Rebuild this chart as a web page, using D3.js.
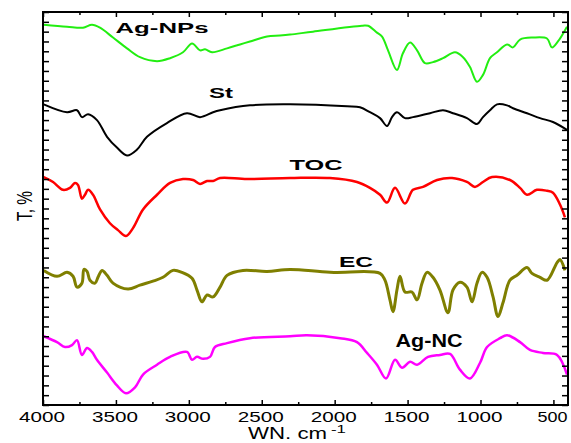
<!DOCTYPE html>
<html>
<head>
<meta charset="utf-8">
<script src="https://cdn.jsdelivr.net/npm/d3@7"></script>
<style>
  body { margin: 0; background: #fff; }
  svg { display: block; font-family: "Liberation Sans", Arial, sans-serif; }
</style>
</head>
<body>
<svg id="chart" width="571" height="443"></svg>
<script>
// spektra FTIR, hodnoty [vlnocet, T]
const agNPs = [
  [3995, 387], [3835, 385], [3726, 384], [3664, 387], [3609, 384], [3520, 374], [3424, 363],
  [3335, 354], [3218, 350], [3129, 353], [3040, 359], [2978, 368], [2923, 361], [2889, 362],
  [2841, 359], [2738, 363], [2649, 367], [2581, 370], [2464, 375], [2375, 376], [2306, 377],
  [2149, 380], [1813, 386], [1771, 386], [1710, 379], [1675, 375], [1634, 361], [1573, 341],
  [1532, 358], [1483, 369], [1435, 361], [1381, 348], [1326, 349], [1257, 353], [1175, 359],
  [1120, 354], [1072, 344], [1024, 329], [983, 336], [935, 353], [887, 359], [818, 367],
  [777, 364], [729, 372], [640, 374], [544, 373], [510, 364], [469, 370], [407, 385]
];
const st = [
  [3995, 306], [3835, 298], [3767, 300], [3733, 293], [3691, 296], [3630, 290], [3561, 273],
  [3493, 262], [3424, 254], [3355, 260], [3287, 273], [3150, 287], [3013, 297], [2923, 293],
  [2834, 298], [2786, 300], [2581, 305], [2306, 306], [1915, 304], [1826, 303], [1758, 298],
  [1689, 292], [1641, 284], [1607, 293], [1573, 298], [1518, 292], [1463, 293], [1346, 297],
  [1257, 300], [1189, 297], [1093, 292], [1024, 286], [983, 293], [935, 300], [887, 306],
  [818, 305], [777, 302], [681, 297], [592, 292], [503, 288], [407, 280]
];
const toc = [
  [3995, 232], [3931, 227], [3863, 219], [3815, 221], [3781, 226], [3760, 224], [3733, 210],
  [3712, 214], [3691, 219], [3657, 214], [3609, 199], [3541, 185], [3486, 178], [3431, 172],
  [3383, 180], [3314, 199], [3218, 214], [3129, 226], [3040, 230], [2971, 229], [2923, 225],
  [2875, 228], [2834, 228], [2786, 231], [2601, 230], [2306, 231], [2032, 231], [1847, 227],
  [1758, 221], [1689, 214], [1641, 206], [1586, 221], [1518, 205], [1463, 219], [1394, 222],
  [1298, 229], [1195, 231], [1093, 227], [1038, 222], [983, 227], [921, 232], [798, 229],
  [729, 221], [681, 214], [613, 219], [544, 218], [503, 216], [455, 204], [421, 191]
];
const ec = [
  [3995, 137], [3904, 131], [3835, 135], [3794, 131], [3767, 120], [3733, 124], [3719, 138],
  [3698, 136], [3678, 127], [3643, 124], [3623, 130], [3595, 137], [3561, 132], [3520, 124],
  [3417, 118], [3335, 122], [3246, 126], [3177, 130], [3109, 137], [3047, 135], [2978, 129],
  [2944, 117], [2910, 105], [2875, 112], [2834, 110], [2786, 120], [2738, 132], [2629, 137],
  [2464, 136], [2306, 138], [2032, 135], [1689, 134], [1655, 127], [1621, 107], [1600, 95],
  [1573, 117], [1552, 131], [1518, 115], [1470, 115], [1435, 107], [1401, 124], [1367, 135],
  [1326, 130], [1278, 117], [1223, 94], [1189, 117], [1141, 125], [1093, 120], [1058, 105],
  [1024, 124], [990, 135], [955, 130], [914, 110], [880, 90], [846, 104], [798, 127],
  [750, 132], [681, 140], [647, 134], [592, 130], [544, 127], [475, 145], [455, 148], [421, 137]
];
const agNC = [
  [3995, 70], [3904, 64], [3849, 59], [3801, 61], [3767, 66], [3733, 51], [3698, 58],
  [3664, 54], [3630, 46], [3561, 33], [3493, 20], [3431, 12], [3369, 18], [3314, 31],
  [3218, 41], [3129, 49], [3013, 54], [2978, 46], [2944, 49], [2903, 47], [2855, 49],
  [2821, 59], [2738, 63], [2581, 68], [2306, 70], [2190, 71], [1963, 68], [1847, 64],
  [1778, 53], [1710, 41], [1648, 27], [1586, 46], [1538, 38], [1483, 44], [1435, 41],
  [1360, 49], [1278, 51], [1209, 52], [1141, 36], [1072, 27], [1003, 43], [955, 59],
  [866, 68], [818, 71], [729, 64], [661, 56], [571, 53], [475, 51], [407, 31]
];

const seriesNames = ["Ag-NPs", "St", "TOC", "EC", "Ag-NC"];
const seriesData = [agNPs, st, toc, ec, agNC];
const seriesColors = ["#22ee11", "#000000", "#ff0000", "#7f7f00", "#ff00ff"];
const seriesWidths = [2, 2, 2.5, 3, 2.5];

const xTicks = [4000, 3500, 3000, 2500, 2000, 1500, 1000, 500];
const xMinor = d3.range(3750, 400, -500);
const yTicks = d3.range(0, 401, 10);

const margin = { left: 43, right: 3, top: 12, bottom: 38 };
const width = 571, height = 443;
const svg = d3.select("#chart");

const x = d3.scaleLinear().domain([4000, 400]).range([margin.left, width - margin.right]);
const y = d3.scaleLinear().domain([0, 400]).range([height - margin.bottom, margin.top]);

// text roztazeny do sirky jako v puvodnim obrazku
function label(tx, ty, str, len, size, weight, anchor) {
  return svg.append("text")
    .attr("x", tx).attr("y", ty)
    .attr("font-size", size)
    .attr("font-weight", weight || "normal")
    .attr("text-anchor", anchor || "middle")
    .attr("textLength", len)
    .attr("lengthAdjust", "spacingAndGlyphs")
    .text(str);
}

// krivky
const line = d3.line().x(d => x(d[0])).y(d => y(d[1])).curve(d3.curveCatmullRom.alpha(0.5));
seriesData.forEach((s, i) => {
  svg.append("path")
    .attr("d", line(s))
    .attr("fill", "none")
    .attr("stroke", seriesColors[i])
    .attr("stroke-width", seriesWidths[i])
    .attr("stroke-linejoin", "round");
});

// osy - carky dovnitr
const yBottom = height - margin.bottom, yTop = margin.top;
svg.append("g").attr("transform", `translate(0,${yBottom})`)
  .call(d3.axisBottom(x).tickValues(xTicks).tickSize(-5).tickFormat(""));
svg.append("g").attr("transform", `translate(0,${yBottom})`)
  .call(d3.axisBottom(x).tickValues(xMinor).tickSize(-3).tickFormat(""));
svg.append("g").attr("transform", `translate(0,${yTop})`)
  .call(d3.axisTop(x).tickValues(xTicks).tickSize(-5).tickFormat(""));
svg.append("g").attr("transform", `translate(0,${yTop})`)
  .call(d3.axisTop(x).tickValues(xMinor).tickSize(-3).tickFormat(""));
svg.append("g").attr("transform", `translate(${margin.left},0)`)
  .call(d3.axisLeft(y).tickValues(yTicks).tickSize(-6).tickFormat(""));
svg.append("g").attr("transform", `translate(${width - margin.right},0)`)
  .call(d3.axisRight(y).tickValues(yTicks).tickSize(-6).tickFormat(""));
svg.selectAll(".domain").remove();
svg.selectAll(".tick line").attr("stroke", "#000").attr("stroke-width", 1.5);

svg.append("rect")
  .attr("x", margin.left).attr("y", yTop)
  .attr("width", width - margin.right - margin.left).attr("height", yBottom - yTop)
  .attr("fill", "none").attr("stroke", "#000").attr("stroke-width", 2);

// popisky osy x
xTicks.forEach(t => {
  label(x(t) - 1, 422, String(t), t >= 1000 ? 46 : 30, 14);
});
label(248, 439, "WN. cm", 79, 16, "normal", "start");
label(331, 433, "-1", 15, 10, "normal", "start");

// popisek osy y
svg.append("text")
  .attr("transform", "translate(32,206) scale(1.5,1) rotate(-90)")
  .attr("text-anchor", "middle")
  .attr("font-size", 15)
  .attr("textLength", 30)
  .attr("lengthAdjust", "spacingAndGlyphs")
  .text("T, %");

// nazvy spekter
const namePos = [[162, 33, 93, 14], [221, 98, 24, 14], [316, 170, 53, 14], [356, 267, 34, 14], [429, 347, 67, 18]];
seriesNames.forEach((n, i) => {
  const p = namePos[i];
  label(p[0], p[1], n, p[2], p[3], "bold");
});
</script>
</body>
</html>
